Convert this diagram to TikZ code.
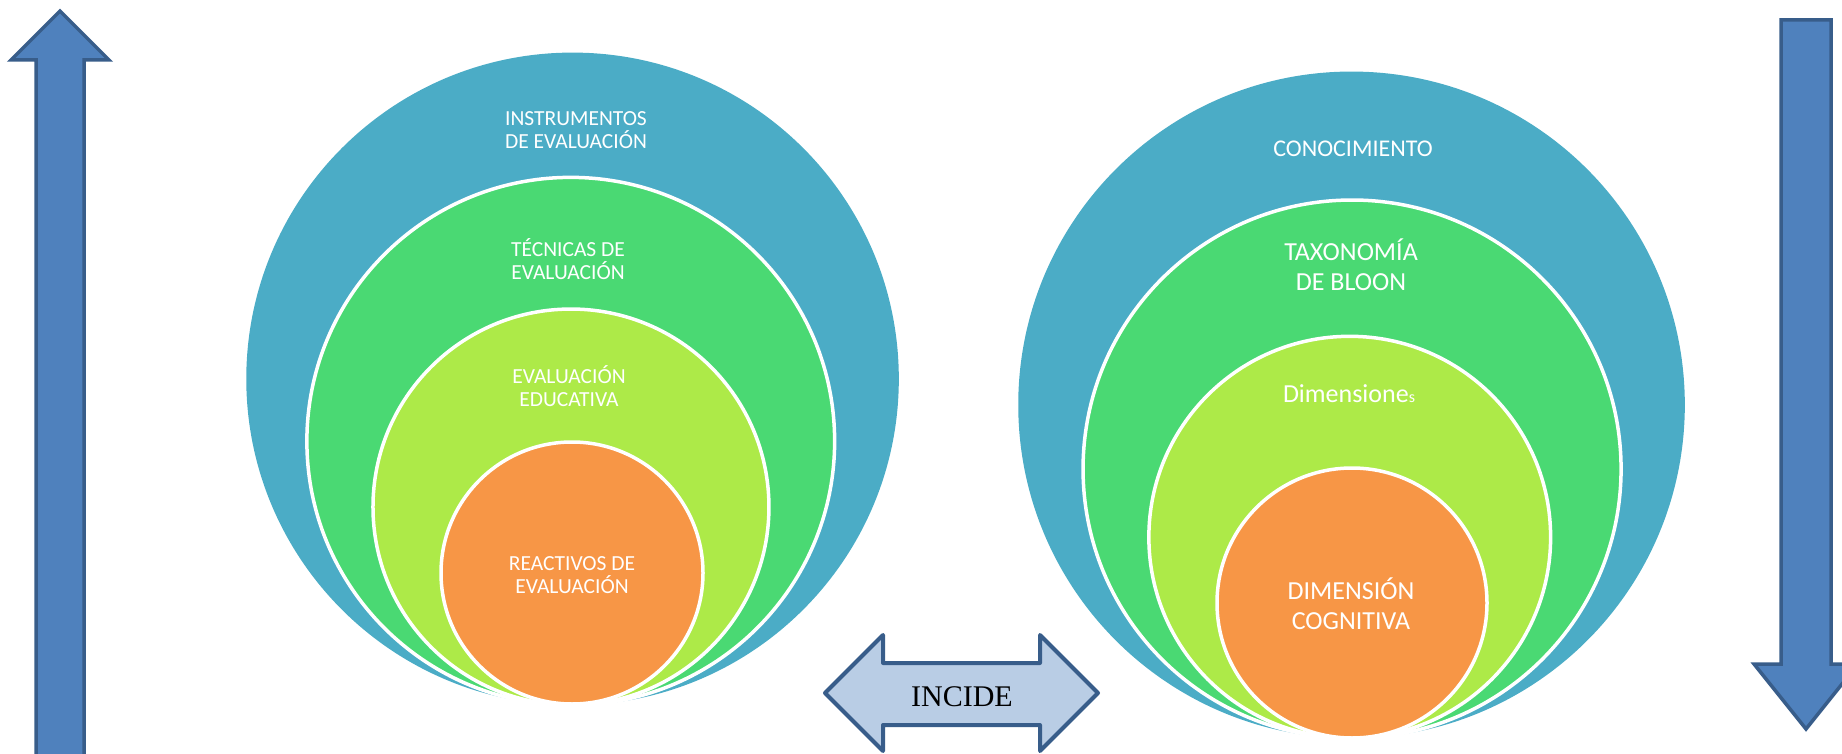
\documentclass[tikz,border=0pt]{standalone}
\usepackage{fontspec}
\setmainfont{Carlito}
\newfontfamily\serifface{Liberation Serif}
\usetikzlibrary{fadings}
\definecolor{cblue}{HTML}{4BACC6}
\definecolor{cgreen}{HTML}{4AD973}
\definecolor{clime}{HTML}{ADEA48}
\definecolor{corange}{HTML}{F79646}
\definecolor{afill}{HTML}{4F81BD}
\definecolor{aline}{HTML}{385D8A}
\definecolor{dfill}{HTML}{B9CDE5}

\begin{tikzfadingfrompicture}[name=bfade]
  \fill[transparent!0] (-50bp,-50bp) rectangle (50bp,50bp);
  \shade[top color=transparent!0, bottom color=transparent!100] (-50bp,-48.5bp) rectangle (50bp,-42bp);
  \fill[transparent!100] (-50bp,-50bp) rectangle (50bp,-48.5bp);
\end{tikzfadingfrompicture}

\begin{document}
\begin{tikzpicture}[x=1pt,y=-1pt,
  ring/.style={draw=white, line width=3.5pt, path fading=bfade},
  core/.style={draw=white, line width=3.5pt},
  lblL/.style={text=white, align=center, inner sep=0pt, font=\fontsize{21.5}{23.5}\selectfont},
  lblR/.style={text=white, align=center, inner sep=0pt, font=\fontsize{26}{30}\selectfont},
  bigarrow/.style={fill=afill, draw=aline, line width=3.5pt, line join=miter},
  dblarrow/.style={fill=dfill, draw=aline, line width=4pt, line join=round}]
\useasboundingbox (0,0) rectangle (1842,754);

% vertical arrows
\draw[bigarrow] (36,770) -- (36,60) -- (11,60) -- (60,11) -- (109,60) -- (84,60) -- (84,770) -- cycle;
\draw[bigarrow] (1781,20) -- (1831,20) -- (1831,664) -- (1858,664) -- (1806,729) -- (1754,664) -- (1781,664) -- cycle;

% left group
\fill[cblue, path fading=bfade] (573,378.5) circle (326.5);
\filldraw[ring, fill=cgreen] (571,441) circle (264);
\filldraw[ring, fill=clime] (571,507) circle (198);
\filldraw[core, fill=corange] (572,573) circle (131);

\node[lblL] (instr) at (576,130) {INSTRUMENTOS\\DE EVALUACIÓN};
\node[lblL] (tecn) at (568,259) {TÉCNICAS DE\\EVALUACIÓN};
\node[lblL] (educ) at (569,386) {EVALUACIÓN\\EDUCATIVA};
\node[lblL] (react) at (572,575) {REACTIVOS DE\\EVALUACIÓN};

% right group
\fill[cblue, path fading=bfade] (1352,404.5) circle (333.5);
\filldraw[ring, fill=cgreen] (1352,469) circle (269);
\filldraw[ring, fill=clime] (1350,537) circle (201);
\filldraw[core, fill=corange] (1352,603) circle (135);

\node[text=white, inner sep=0pt, font=\fontsize{24}{28}\selectfont] (conoc) at (1353,149) {CONOCIMIENTO};
\node[lblR] (taxo) at (1351,265) {TAXONOMÍA\\DE BLOON};
\node[lblR] (dims) at (1349,394) {Dimensione{\fontsize{16}{16}\selectfont s}};
\node[lblR] (cogn) at (1351,604) {DIMENSIÓN\\COGNITIVA};

% double arrow
\draw[dblarrow] (825,693) -- (883,635) -- (883,663) -- (1040,663) -- (1040,635) -- (1098,693) -- (1040,751) -- (1040,725) -- (883,725) -- (883,751) -- cycle;
\node[inner sep=0pt, font=\serifface\fontsize{30}{34}\selectfont] (incide) at (962,697) {INCIDE};
\end{tikzpicture}
\end{document}
